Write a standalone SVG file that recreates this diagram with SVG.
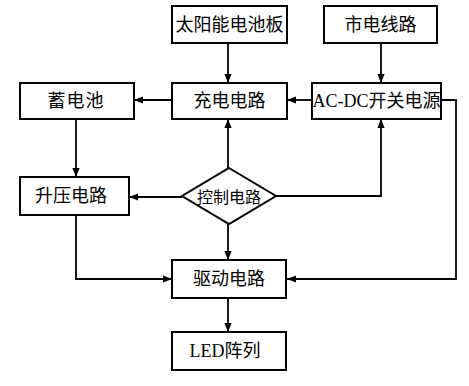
<svg xmlns="http://www.w3.org/2000/svg" width="469" height="386" viewBox="0 0 469 386">
<style>
.box{fill:#fff;stroke:#000;stroke-width:2}
.t{font-family:"Liberation Serif","Noto Sans CJK SC",serif;font-size:18px;text-anchor:middle;dominant-baseline:central;fill:#000}
.c{fill:none;stroke:#000;stroke-width:1.8}
</style>
<defs>
<marker id="a" viewBox="0 0 10 10" refX="10" refY="5" markerWidth="9" markerHeight="9" markerUnits="userSpaceOnUse" orient="auto">
<path d="M0,1 L10,5 L0,9 Z" fill="#000"/>
</marker>
</defs>
<g id="connectors">
<path class="c" d="M228,43 V83" marker-end="url(#a)"/>
<path class="c" d="M381,43 V83" marker-end="url(#a)"/>
<path class="c" d="M172,100 H134" marker-end="url(#a)"/>
<path class="c" d="M312,100 H287" marker-end="url(#a)"/>
<path class="c" d="M441,100 H456 V279 H287" marker-end="url(#a)"/>
<path class="c" d="M76,119 V177" marker-end="url(#a)"/>
<path class="c" d="M228,168 V119" marker-end="url(#a)"/>
<path class="c" d="M182,197 H129" marker-end="url(#a)"/>
<path class="c" d="M276,196 H381 V119" marker-end="url(#a)"/>
<path class="c" d="M228,224 V260" marker-end="url(#a)"/>
<path class="c" d="M76,215 V279 H172" marker-end="url(#a)"/>
<path class="c" d="M228,298 V332" marker-end="url(#a)"/>
</g>
<g id="solar"><rect class="box" x="172" y="6" width="115" height="37"/><text class="t" x="229.5" y="25">太阳能电池板</text></g>
<g id="mains"><rect class="box" x="324" y="6" width="113" height="37"/><text class="t" x="380.5" y="25">市电线路</text></g>
<g id="battery"><rect class="box" x="20" y="83" width="114" height="36"/><text class="t" x="76" y="101" letter-spacing="1">蓄电池</text></g>
<g id="charge"><rect class="box" x="172" y="83" width="115" height="36"/><text class="t" x="229.5" y="101">充电电路</text></g>
<g id="acdc"><rect class="box" x="312" y="83" width="129" height="36"/><text class="t" x="376.5" y="101">AC-DC开关电源</text></g>
<g id="boost"><rect class="box" x="20" y="177" width="109" height="38"/><text class="t" x="71" y="196">升压电路</text></g>
<g id="control"><path class="box" d="M229,168 L276,196 L229,224 L182,196 Z"/><text class="t" x="229" y="197" style="font-size:16px">控制电路</text></g>
<g id="driver"><rect class="box" x="172" y="260" width="114" height="38"/><text class="t" x="229" y="279">驱动电路</text></g>
<g id="led"><rect class="box" x="172" y="332" width="114" height="38"/><text class="t" x="225" y="351">LED阵列</text></g>
</svg>
